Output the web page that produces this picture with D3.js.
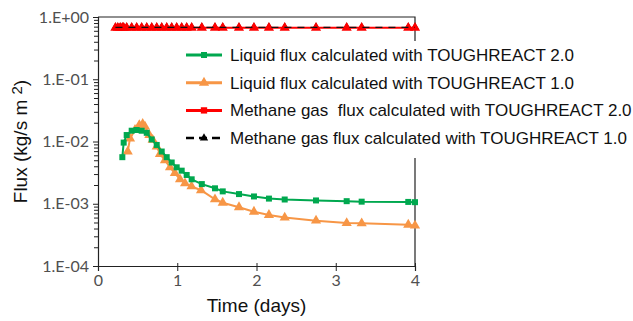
<!DOCTYPE html>
<html>
<head>
<meta charset="utf-8">
<script src="https://cdn.jsdelivr.net/npm/d3@7"></script>
<style>
  body { margin: 0; background: #fff; }
  svg { display: block; }
  text { white-space: pre; }
</style>
</head>
<body>
<div id="chart"></div>
<script>
// Liquid flux, TOUGHREACT 2.0
const liq2Time = [0.307, 0.324, 0.362, 0.425, 0.488, 0.551, 0.615, 0.678, 0.741, 0.804, 0.867, 0.930, 0.993, 1.056, 1.119, 1.182, 1.31, 1.476, 1.574, 1.779, 1.968, 2.157, 2.356, 2.751, 3.138, 3.327, 3.915, 4.0];
const liq2Flux = [5.6e-3, 9.6e-3, 1.27e-2, 1.49e-2, 1.53e-2, 1.49e-2, 1.38e-2, 1.08e-2, 8.8e-3, 6.9e-3, 5.6e-3, 4.6e-3, 3.85e-3, 3.4e-3, 2.9e-3, 2.47e-3, 2.07e-3, 1.77e-3, 1.58e-3, 1.43e-3, 1.31e-3, 1.21e-3, 1.17e-3, 1.13e-3, 1.10e-3, 1.08e-3, 1.07e-3, 1.06e-3];
// Liquid flux, TOUGHREACT 1.0
const liq1Time = [0.375, 0.404, 0.467, 0.521, 0.564, 0.593, 0.648, 0.69, 0.741, 0.782, 0.845, 0.909, 0.97, 1.035, 1.098, 1.18, 1.30, 1.476, 1.574, 1.779, 1.968, 2.157, 2.356, 2.751, 3.138, 3.327, 3.915, 4.0];
const liq1Flux = [6.9e-3, 1.12e-2, 1.53e-2, 1.84e-2, 1.91e-2, 1.73e-2, 1.27e-2, 1.06e-2, 8.3e-3, 6.3e-3, 5.0e-3, 3.85e-3, 3.1e-3, 2.47e-3, 2.13e-3, 1.9e-3, 1.65e-3, 1.18e-3, 1.04e-3, 8.8e-4, 7.45e-4, 6.6e-4, 6.0e-4, 5.35e-4, 4.9e-4, 4.85e-4, 4.6e-4, 4.45e-4];
// Methane gas flux (both versions)
const gasTime = [0.22, 0.25, 0.28, 0.307, 0.324, 0.362, 0.425, 0.488, 0.551, 0.615, 0.678, 0.741, 0.804, 0.867, 0.930, 0.993, 1.056, 1.119, 1.182, 1.31, 1.476, 1.574, 1.779, 1.968, 2.157, 2.356, 2.751, 3.138, 3.327, 3.915, 4.0];
const gas2Flux = gasTime.map(() => 0.67);
const gas1Flux = gasTime.map(() => 0.68);

const xTicks = [0, 1, 2, 3, 4];
const yTicks = [1e-4, 1e-3, 1e-2, 1e-1, 1];
const yTickLabels = ['1.E-04', '1.E-03', '1.E-02', '1.E-01', '1.E+00'];
const legendLabels = [
  'Liquid flux calculated with TOUGHREACT 2.0',
  'Liquid flux calculated with TOUGHREACT 1.0',
  'Methane gas  flux calculated with TOUGHREACT 2.0',
  'Methane gas flux calculated with TOUGHREACT 1.0'
];

const W = 633, H = 321;
const margin = { top: 17, right: 218, bottom: 55, left: 98 };
const width = W - margin.left - margin.right;
const height = H - margin.top - margin.bottom;

const GREEN = '#00a84f', ORANGE = '#f79646', RED = '#ff0000', BLACK = '#000';
const FONT = '"Liberation Sans", Arial, sans-serif';
const TICK_FONT = 'Lato, "Open Sans", sans-serif';

const svgRoot = d3.select('#chart').append('svg').attr('width', W).attr('height', H);
const svg = svgRoot.append('g').attr('transform', `translate(${margin.left},${margin.top})`);

const x = d3.scaleLinear().domain([0, 4]).range([0, width]);
const y = d3.scaleLog().domain([1e-4, 1]).range([height, 0]);

// frame (top and right)
svg.append('path')
  .attr('d', `M0,0H${width}V${height}`)
  .attr('fill', 'none').attr('stroke', '#222').attr('stroke-width', 1.2);

// y axis: major + minor ticks
const minor = [];
for (let e = -4; e < 0; e++) for (let k = 2; k <= 9; k++) minor.push(k * Math.pow(10, e));
svg.append('g')
  .call(d3.axisLeft(y).tickValues(minor).tickSize(4).tickFormat(''))
  .call(g => g.select('.domain').remove())
  .selectAll('line').attr('stroke', '#222');
const yAxis = svg.append('g')
  .call(d3.axisLeft(y).tickValues(yTicks).tickSize(5).tickPadding(4)
    .tickFormat((d, i) => yTickLabels[i]));
yAxis.select('.domain').attr('stroke', '#222').attr('stroke-width', 1.2);
yAxis.selectAll('line').attr('stroke', '#222');
yAxis.selectAll('text').attr('font-family', TICK_FONT).attr('font-size', 16).attr('fill', '#505050');

// x axis
const xAxis = svg.append('g').attr('transform', `translate(0,${height})`)
  .call(d3.axisBottom(x).tickValues(xTicks).tickSize(5).tickPadding(4).tickFormat(d3.format('d')));
xAxis.select('.domain').attr('stroke', '#222').attr('stroke-width', 1.2);
xAxis.selectAll('line').attr('stroke', '#222').attr('y1', -3);
xAxis.selectAll('text').attr('font-family', TICK_FONT).attr('font-size', 16).attr('fill', '#505050');

// axis titles
const yTitle = svgRoot.append('text')
  .attr('transform', `translate(27,${margin.top + height / 2}) rotate(-90)`)
  .attr('text-anchor', 'middle')
  .attr('font-family', FONT).attr('font-size', 19).attr('fill', '#111');
yTitle.append('tspan').text('Flux (kg/s m ');
yTitle.append('tspan').attr('dy', -5).attr('font-size', 15).text('2');
yTitle.append('tspan').attr('dy', 5).text(')');
svgRoot.append('text')
  .attr('x', margin.left + width / 2).attr('y', H - 9)
  .attr('text-anchor', 'middle')
  .attr('font-family', FONT).attr('font-size', 19).attr('fill', '#111')
  .text('Time (days)');

const line = d3.line().x(d => x(d[0])).y(d => y(d[1]));
const zip = (t, v) => t.map((d, i) => [d, v[i]]);

function drawSeries(data, color, symbol, size, sw) {
  svg.append('path').datum(data)
    .attr('fill', 'none').attr('stroke', color).attr('stroke-width', sw).attr('d', line);
  svg.append('g').selectAll('path').data(data).join('path')
    .attr('transform', d => `translate(${x(d[0])},${y(d[1])})`)
    .attr('d', d3.symbol().type(symbol).size(size))
    .attr('fill', color);
}

// methane series: black triangles underneath, red on top, black dashes over the red line
drawSeries(zip(gasTime, gas1Flux), BLACK, d3.symbolTriangle, 30, 0);
drawSeries(zip(gasTime, gas2Flux), RED, d3.symbolTriangle, 45, 2);
svg.append('path').datum(zip(gasTime, gas1Flux))
  .attr('fill', 'none').attr('stroke', '#111').attr('stroke-width', 1.3)
  .attr('stroke-dasharray', '7,6').attr('d', line);
drawSeries(zip(liq1Time, liq1Flux), ORANGE, d3.symbolTriangle, 45, 2);
drawSeries(zip(liq2Time, liq2Flux), GREEN, d3.symbolSquare, 36, 2);

// legend
const legend = svgRoot.append('g').attr('transform', 'translate(183,41)');
legend.append('rect').attr('x', 0).attr('y', 0).attr('width', 450).attr('height', 117).attr('fill', '#fff');
const legendItems = [
  { color: GREEN, symbol: d3.symbolSquare, size: 36, dash: null, sw: 3 },
  { color: ORANGE, symbol: d3.symbolTriangle, size: 45, dash: null, sw: 3 },
  { color: RED, symbol: d3.symbolSquare, size: 40, dash: null, sw: 3 },
  { color: BLACK, symbol: d3.symbolTriangle, size: 30, dash: '8,5', sw: 2.5 }
];
legendItems.forEach((d, i) => {
  const g = legend.append('g').attr('transform', `translate(0,${14 + i * 27.7})`);
  g.append('line').attr('x1', 3).attr('x2', 39).attr('y1', 0).attr('y2', 0)
    .attr('stroke', d.color).attr('stroke-width', d.sw).attr('stroke-dasharray', d.dash);
  g.append('path').attr('transform', 'translate(21,0)')
    .attr('d', d3.symbol().type(d.symbol).size(d.size)).attr('fill', d.color);
  g.append('text').attr('x', 47).attr('y', 0).attr('dy', '0.35em')
    .attr('font-family', FONT).attr('font-size', 17).attr('fill', '#111')
    .text(legendLabels[i]);
});
</script>
</body>
</html>
